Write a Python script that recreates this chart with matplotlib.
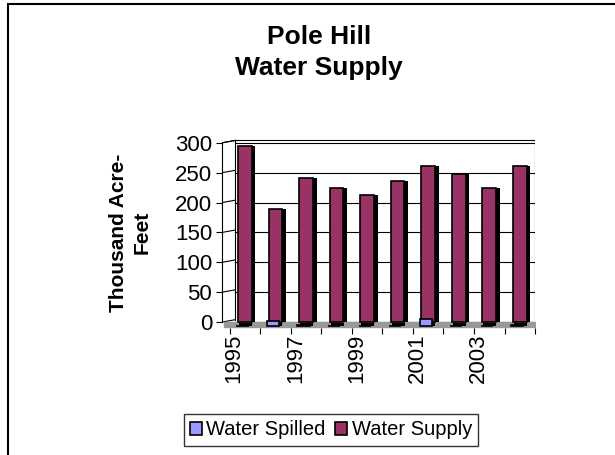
import matplotlib.pyplot as plt
from matplotlib.patches import Rectangle

plt.rcParams['font.family'] = ['Liberation Sans', 'DejaVu Sans']

years = [1995, 1996, 1997, 1998, 1999, 2000, 2001, 2002, 2003, 2004]
water_spilled = [0, 8, 2, 0, 0, 0, 12, 0, 0, 2]
water_supply = [295, 190, 241, 225, 212, 236, 261, 247, 224, 261]
tick_years = [1995, 1997, 1999, 2001, 2003]

spill_color = '#9999ff'
supply_color = '#993366'

fig = plt.figure(figsize=(6.15, 4.55), dpi=100)
# outer chart frame
fig.patches.append(Rectangle((8 / 615, -0.05), 1.1, 1 - 4 / 455 + 0.05,
                             transform=fig.transFigure, fill=False,
                             edgecolor='black', linewidth=1.5))

ax = fig.add_axes([0.361, 0.279, 0.509, 0.415])
x = list(range(len(years)))

# floor and back wall
ax.fill_between([-0.7, 9.5], -8, 0, color='#999999', zorder=1)
for y in range(0, 301, 50):
    ax.plot([-0.32, 9.5], [y, y], color='black', linewidth=0.8, zorder=0.5)
    ax.plot([-0.75, -0.32], [y, y + 4], color='black', linewidth=0.8,
            zorder=0.5)
ax.plot([-0.32, -0.32], [4, 304], color='black', linewidth=0.8, zorder=0.5)
ax.plot([-0.75, -0.32], [300, 304], color='black', linewidth=0.8, zorder=0.5)
ax.plot([-0.32, 9.5], [304, 304], color='black', linewidth=0.8, zorder=0.5)
ax.plot([9.5, 9.5], [-8, 304], color='black', linewidth=0.8, zorder=0.5)

# depth (sides) of the supply bars
ax.bar([i + 0.12 for i in x], water_supply, width=0.45, bottom=0,
       color='black', zorder=2)
ax.bar(x, water_supply, width=0.45, color=supply_color,
       edgecolor='black', linewidth=1.2, zorder=3, label='Water Supply')
# spilled bars sit in front row
ax.bar([i + 0.02 for i in x], [-5] * len(x), width=0.42, bottom=-1,
       color='black', zorder=4)
ax.bar([i - 0.08 for i in x], water_spilled, width=0.4, bottom=-7,
       color=spill_color, edgecolor='black', linewidth=1.2, zorder=5,
       label='Water Spilled')

ax.set_xlim(-0.75, 9.5)
ax.set_ylim(-10, 306)
ax.set_yticks(range(0, 301, 50))
ax.tick_params(axis='y', labelsize=16, length=4, width=0.8, pad=3)
ax.set_xticks([years.index(t) - 0.35 for t in tick_years])
ax.set_xticklabels([str(t) for t in tick_years], rotation=90, fontsize=16)
ax.tick_params(axis='x', length=0, pad=4)
ax.set_xticks([i - 0.5 for i in range(11)], minor=True)
ax.tick_params(axis='x', which='minor', length=4, width=0.8)
for s in ['top', 'right', 'bottom']:
    ax.spines[s].set_visible(False)
ax.spines['left'].set_bounds(0, 300)
ax.spines['left'].set_linewidth(0.8)

ax.set_ylabel('Thousand Acre-\nFeet', fontsize=15, fontweight='bold',
              linespacing=1.3)
ax.yaxis.set_label_coords(-0.224, 0.505)

fig.text(0.519, 0.885, 'Pole Hill\nWater Supply', ha='center', va='center',
         fontsize=19, fontweight='bold', linespacing=1.35)

handles, labels = ax.get_legend_handles_labels()
leg = fig.legend(handles[::-1], labels[::-1], loc='center',
                 bbox_to_anchor=(0.538, 0.055), ncol=2, fontsize=14.5,
                 frameon=True, fancybox=False, edgecolor='black',
                 handlelength=0.6, handleheight=0.6, handletextpad=0.2,
                 columnspacing=0.5, borderpad=0.3)
leg.get_frame().set_linewidth(1.0)

fig.savefig('out.png', dpi=100)
